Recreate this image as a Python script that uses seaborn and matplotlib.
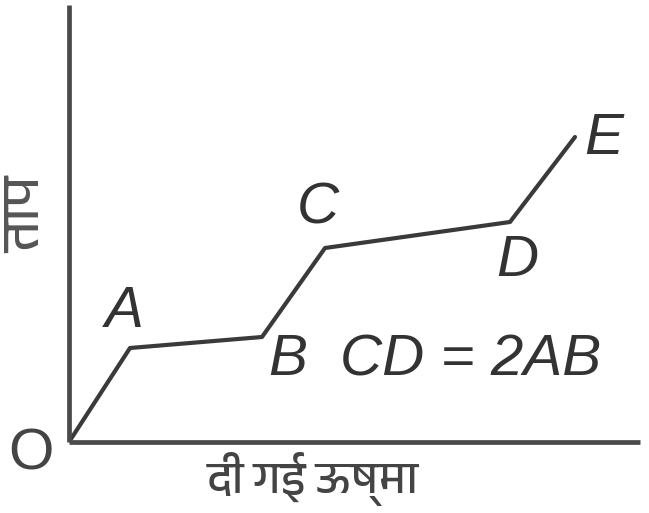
import matplotlib
matplotlib.use("Agg")
import matplotlib.pyplot as plt
from matplotlib import font_manager
from matplotlib.ft2font import FT2Font
import seaborn as sns
import pandas as pd

# ---- data (heat and temperature in arbitrary units) ----
points = ["O", "A", "B", "C", "D", "E"]
heat = [0, 61, 193, 256, 441, 506]
temp = [0, 94, 105, 194, 220, 305]
x_label = "दी गई ऊष्मा"
y_label = "ताप"
note = "CD = 2AB"

df = pd.DataFrame({"heat": heat, "temp": temp, "point": points})

sns.set_theme(style="white")

# find a font that can render Devanagari
def find_devanagari():
    best = None
    for f in font_manager.fontManager.ttflist:
        try:
            cmap = FT2Font(f.fname).get_charmap()
        except Exception:
            continue
        if all(ord(c) in cmap for c in "दीगईऊष्माताप"):
            if "Devanagari" in f.name:
                return f.name
            if best is None:
                best = f.name
    return best

dev_font = find_devanagari()
dev_family = [dev_font, "DejaVu Sans"] if dev_font else ["DejaVu Sans"]
plt.rcParams["font.family"] = ["Liberation Sans", "DejaVu Sans"]

W, H = 649, 513
fig = plt.figure(figsize=(W / 100, H / 100), dpi=100)
ox, oy = 69, 442
ax = fig.add_axes([ox / W, (H - oy) / H, (640 - ox) / W, (oy - 5) / H])
ax.set_xlim(0, 571)
ax.set_ylim(0, 437)

ink = "#3a3a3a"
sns.lineplot(data=df, x="heat", y="temp", sort=False, color=ink, linewidth=3.0,
             ax=ax, estimator=None)

for s in ["top", "right"]:
    ax.spines[s].set_visible(False)
for s in ["left", "bottom"]:
    ax.spines[s].set_color("#4a4a4a")
    ax.spines[s].set_linewidth(3.4)
    ax.spines[s].set_capstyle("butt")
ax.set_xticks([])
ax.set_yticks([])
ax.set_xlabel("")
ax.set_ylabel("")
ax.patch.set_alpha(0)

lab_kw = dict(fontsize=42, style="italic", color="#333333", ha="center", va="center")

def put(px, py, s, **kw):
    d = dict(lab_kw)
    d.update(kw)
    fig.text(px / W, 1 - py / H, s, **d)

put(31, 455, "O", style="normal", color="#444444")
put(124, 312, "A")
put(288, 360, "B")
put(318, 209, "C")
put(517, 261, "D")
put(604, 139, "E")
put(471, 360, note)

fig.text(313 / W, 1 - 479 / H, x_label, fontsize=33, color="#444444", ha="center",
         va="center", family=dev_family)
fig.text(27 / W, 1 - 215 / H, y_label, fontsize=38, color="#555555", ha="center",
         va="center", rotation=90, family=dev_family)

fig.savefig("out.png", dpi=100)
